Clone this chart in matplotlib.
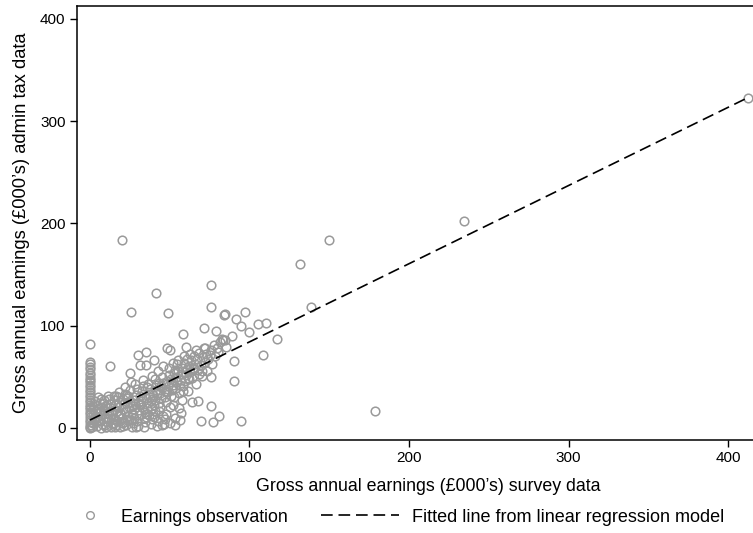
import matplotlib
matplotlib.use("Agg")
import matplotlib.pyplot as plt
from matplotlib.lines import Line2D

plt.rcParams['font.family'] = ['Liberation Sans', 'DejaVu Sans']

# survey earnings (x) vs admin tax earnings (y), in £000's
survey = [
    0, 0, 0, 0, 0, 0, 0, 0, 0, 0, 0, 0, 0, 0, 0, 0, 0, 0, 0, 0, 0, 0, 0, 0, 0, 0, 0, 0, 0,
    1.2, 1.8, 2.5, 1.6, 2.9, 2.2, 3.4, 4.1, 4.8, 5.3, 4.6, 5.9, 6.2, 5.1, 6.8, 7.4, 8.1, 7.7,
    8.6, 9.2, 8.9, 9.8, 10.4, 11.2, 10.7, 11.6, 12.3, 12.0, 12.7, 13.1, 13.8, 14.4, 13.6, 14.9,
    15.5, 14.8, 16.2, 16.9, 17.3, 16.7, 17.9, 18.4, 17.6, 19.1, 19.8, 20.3, 19.5, 20.8, 21.4,
    20.6, 21.9, 22.5, 23.2, 23.8, 22.9, 24.3, 24.9, 24.1, 25.4, 24.9, 26.1, 26.7, 27.3, 26.4,
    27.9, 28.5, 27.7, 28.9, 29.6, 29.2, 30.1, 30.4, 31.0, 30.6, 31.5, 32.1, 31.3, 32.8, 33.4,
    31.2, 33.9, 34.5, 35.0, 34.2, 35.6, 36.2, 35.4, 36.9, 37.5, 36.6, 35.3, 35.3, 37.6, 38.1,
    38.8, 39.3, 38.4, 40.0, 39.9, 40.5, 39.7, 41.1, 41.7, 40.8, 40.0, 41.4, 42.3, 42.9, 43.5,
    43.3, 44.1, 44.6, 43.8, 45.2, 45.8, 44.9, 46.0, 47.6, 46.5, 47.1, 47.7, 46.9, 48.3, 48.9,
    48.1, 49.5, 48.5, 49.1, 50.2, 50.6, 50.1, 51.3, 51.8, 51.0, 52.4, 52.7, 53.1, 53.6, 54.2,
    54.8, 53.9, 55.4, 56.0, 56.4, 55.8, 56.9, 57.5, 57.3, 58.1, 58.0, 58.6, 59.2, 59.8, 60.2,
    60.4, 61.0, 60.7, 61.6, 62.3, 62.9, 63.8, 63.5, 64.1, 64.8, 65.4, 66.0, 66.7, 67.5, 67.3,
    68.0, 68.6, 69.4, 69.3, 70.1, 70.8, 71.7, 71.5, 72.1, 72.2, 72.9, 73.6, 74.3, 75.2, 75.6,
    75.6, 75.9, 76.0, 75.9, 76.7, 77.3, 77.5, 78.2, 79.0, 79.6, 80.4, 80.9, 81.3, 82.6, 83.2,
    84.0, 84.6, 84.6, 85.5, 89.2, 90.5, 90.5, 91.5, 94.7, 94.7, 97.2, 99.9, 105.5, 108.7,
    110.2, 117.4, 131.8, 138.6, 150.0, 178.7, 234.7, 412.5, 25.9, 20.0,
    22.0, 25.5, 28.2, 33.0, 38.6, 42.8, 45.5, 52.0, 55.0, 59.0, 63.0, 66.5, 18.5, 15.0, 11.0,
    3.0, 6.5, 9.5, 12.5, 15.8, 18.9, 21.2, 23.5, 26.8, 29.9, 32.6, 35.8, 38.9, 41.9, 44.7,
    47.9, 50.8, 53.3, 56.7, 59.6, 62.2, 65.1, 68.3, 2.0, 7.0, 16.0, 26.0, 37.0, 50.0, 58.5,
    0.8, 2.4, 4.3, 6.0, 8.2, 10.1, 12.0, 14.2, 16.4, 18.2, 20.4, 22.7, 24.6, 27.0, 29.0,
    31.6, 33.7, 36.0, 38.3, 40.6, 43.0, 45.4, 47.3, 49.7, 52.1, 54.5, 57.0, 61.5, 64.5, 70.5,
]
admin = [
    0, 1, 3, 5.8, 8, 10.7, 13, 15.7, 18, 20.5, 22, 24.8, 27, 29.7, 32, 34.6, 37, 39.4, 42, 44.4,
    47, 49, 52, 54, 57, 59, 62, 64.6, 82,
    0.5, 4.2, 7.9, 12.4, 16.8, 21.5, 26.3, 1.8, 6.3, 10.2, 14.7, 19.3, 23.9, 30.2, 0.2, 3.9, 8.6,
    12.8, 17.4, 21.1, 26.7, 1.1, 5.2, 9.7, 14.1, 18.9, 23.2, 27.8, 60.4, 0.4, 4.6, 8.9, 13.3,
    17.6, 22.4, 26.9, 2.3, 6.8, 11.5, 15.9, 20.7, 25.3, 29.8, 0.8, 4.9, 9.2, 13.9, 18.1, 23.6,
    28.4, 33.2, 2.7, 7.1, 11.8, 16.4, 20.2, 25.1, 30.6, 36.9, 53.2, 0.3, 4.4, 9.6, 14.2, 18.7,
    22.9, 27.5, 32.4, 38.1, 6.2, 71.1, 2.1, 12.7, 17.3, 21.8, 26.2, 30.9, 35.6, 40.8, 61.4, 1.0,
    5.7, 10.3, 15.0, 19.5, 24.4, 28.9, 33.1, 37.7, 43.2, 74.4, 61.4, 30.3, 3.2, 8.1, 13.6, 18.2,
    10.8, 22.7, 27.6, 32.2, 36.8, 41.5, 47.3, 66.0, 131.5, 2.0, 6.6, 23.9, 16.2, 20.4, 29.1,
    34.0, 38.6, 44.2, 49.5, 11.4, 13.4, 3.8, 8.7, 25.3, 30.4, 35.1, 40.5, 45.9, 51.2, 78.3,
    112.0, 76.0, 31.0, 20.1, 36.7, 42.3, 47.8, 53.6, 29.7, 9.4, 2.9, 39.1, 44.6, 49.8, 55.3,
    19.0, 7.5, 34.2, 47.1, 27.0, 52.4, 91.4, 58.1, 40.6, 63.4, 45.3, 78.7, 51.5, 57.2, 67.3,
    35.8, 60.6, 54.1, 25.4, 65.9, 48.4, 58.3, 70.2, 62.7, 43.1, 26.4, 67.5, 56.4, 73.1, 6.8,
    61.8, 50.2, 68.9, 97.6, 78.3, 77.7, 64.3, 72.6, 55.8, 67.0, 71.1, 117.8, 49.3, 21.2, 75.6,
    140.0, 62.4, 5.9, 81.2, 70.3, 95.0, 78.0, 74.5, 11.4, 83.6, 86.5, 85.8, 110.0, 111.0, 85.8,
    79.4, 89.7, 65.6, 45.7, 106.4, 99.8, 6.6, 113.0, 93.3, 101.5, 71.4, 102.7, 86.8, 160.0,
    117.8, 183.5, 16.0, 202.0, 323.0, 113.0, 184.0,
    40.0, 44.5, 43.0, 46.5, 50.5, 55.5, 60.0, 63.5, 66.0, 70.0, 72.5, 76.5, 34.5, 31.0, 31.5,
    10.5, 15.5, 3.0, 20.5, 9.0, 14.0, 5.5, 29.5, 12.0, 24.0, 20.0, 13.5, 28.0, 33.5, 41.0,
    35.5, 45.0, 56.5, 41.5, 54.5, 47.5, 57.0, 52.5, 18.5, 28.5, 0.5, 7.5, 12.0, 4.5, 36.0,
    2.6, 9.8, 17.9, 6.9, 24.6, 0.9, 16.7, 3.4, 30.8, 11.1, 1.6, 32.5, 7.8, 21.0, 0.6,
    23.0, 10.0, 39.8, 26.1, 16.8, 43.9, 2.4, 36.4, 58.6, 22.3, 61.9, 14.8, 48.7, 57.9, 56.0,
]

# fitted regression line
fit_intercept = 7.5
fit_slope = 0.765
fit_x = [0, 412.5]
fit_y = [fit_intercept + fit_slope * v for v in fit_x]

xticks = [0, 100, 200, 300, 400]
yticks = [0, 100, 200, 300, 400]

fig = plt.figure(figsize=(7.53, 5.33), dpi=100)
ax = fig.add_axes([0.1019, 0.1745, 0.9327, 0.8148])

pt_color = '#9a9a9a'
ax.plot(survey, admin, linestyle='none', marker='o', markersize=6.2,
        markerfacecolor='none', markeredgecolor=pt_color, markeredgewidth=1.1, zorder=2)
ax.plot(fit_x, fit_y, color='black', linewidth=1.2, dashes=(7, 3.5), zorder=3)

ax.set_xlim(-8.3, 432)
ax.set_ylim(-12, 413)
ax.set_xticks(xticks)
ax.set_yticks(yticks)
ax.tick_params(direction='out', length=5, width=1, pad=3, labelsize=11, colors='black')
for side in ['left', 'bottom', 'top']:
    ax.spines[side].set_linewidth(1.1)
ax.spines['right'].set_visible(False)

ax.set_xlabel("Gross annual earnings (£000’s) survey data", fontsize=12.8, labelpad=9)
ax.set_ylabel("Gross annual eamings (£000’s) admin tax data", fontsize=13.2, labelpad=7)

# legend under the axes, two entries side by side
h_pts = Line2D([], [], linestyle='none', marker='o', markersize=5.5,
               markerfacecolor='none', markeredgecolor=pt_color, markeredgewidth=1.0)
h_fit = Line2D([], [], color='black', linewidth=1.2, dashes=(7, 3.5))
leg_y = 1 - 517 / 533
fig.legend([h_pts], ['Earnings observation'], loc='center left',
           bbox_to_anchor=(82 / 753, leg_y), frameon=False, fontsize=12.8,
           handlelength=0.9, handletextpad=1.3, borderpad=0, borderaxespad=0)
fig.legend([h_fit], ['Fitted line from linear regression model'], loc='center left',
           bbox_to_anchor=(321 / 753, leg_y), frameon=False, fontsize=13.0,
           handlelength=4.3, handletextpad=0.75, borderpad=0, borderaxespad=0)

fig.savefig('out.png', dpi=100)
